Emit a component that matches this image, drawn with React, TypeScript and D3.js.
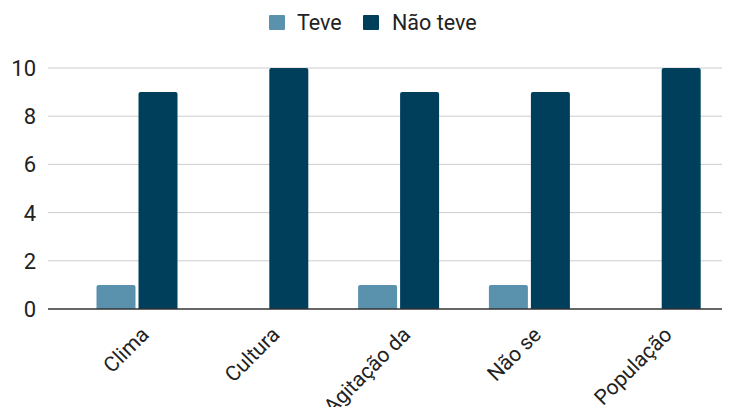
import React from "react";
import * as d3 from "d3";

const categories = ["Clima", "Cultura", "Agitação da", "Não se", "População"];
const seriesNames = ["Teve", "Não teve"];
const teve = [1, 0, 1, 1, 0];
const naoTeve = [9, 10, 9, 9, 10];
const yTicks = [0, 2, 4, 6, 8, 10];
const colors = ["#5a91ac", "#003f5c"];

const W = 737;
const H = 407;

export default function App() {
  const x = d3.scaleBand<string>().domain(categories).range([71.6, 725.6]).paddingInner(0).paddingOuter(0);
  const y = d3.scaleLinear().domain([0, 10]).range([309, 68]);
  const barW = 39;
  const gap = 3;
  const font = "Roboto, 'Noto Sans', sans-serif";
  const series = [teve, naoTeve];

  return (
    <svg width={W} height={H} style={{ position: "absolute", left: 0, top: 0 }} fontFamily={font}>
      <rect width={W} height={H} fill="#fff" />
      {yTicks.map((t) => (
        <g key={t}>
          {t !== 0 && <line x1={48} x2={722} y1={y(t)} y2={y(t)} stroke="#cccccc" strokeWidth={1} />}
          <text x={36} y={y(t)} dy="0.36em" textAnchor="end" fontSize={22} fill="#222">
            {t}
          </text>
        </g>
      ))}
      {categories.map((c, i) => {
        const cx = x(c)! + x.bandwidth() / 2;
        return (
          <g key={c}>
            {series.map((s, si) => {
              const v = s[i];
              if (v <= 0) return null;
              const bx = cx + (si === 0 ? -gap / 2 - barW : gap / 2);
              const top = y(v);
              const r = 2;
              const path = `M${bx},${y(0)} V${top + r} Q${bx},${top} ${bx + r},${top} H${bx + barW - r} Q${bx + barW},${top} ${bx + barW},${top + r} V${y(0)} Z`;
              return <path key={si} d={path} fill={colors[si]} />;
            })}
            <text
              transform={`translate(${cx + 13},${336}) rotate(-45)`}
              textAnchor="end"
              fontSize={21}
              fill="#222"
            >
              {c}
            </text>
          </g>
        );
      })}
      <line x1={48} x2={722} y1={y(0)} y2={y(0)} stroke="#333" strokeWidth={1.5} />
      {/* legend */}
      <rect x={269} y={15} width={16} height={15} fill={colors[0]} rx={1} />
      <text x={297} y={22.5} dy="0.36em" fontSize={21.5} fill="#222">{seriesNames[0]}</text>
      <rect x={363} y={15} width={16} height={15} fill={colors[1]} rx={1} />
      <text x={392} y={22.5} dy="0.36em" fontSize={21.5} fill="#222">{seriesNames[1]}</text>
    </svg>
  );
}
